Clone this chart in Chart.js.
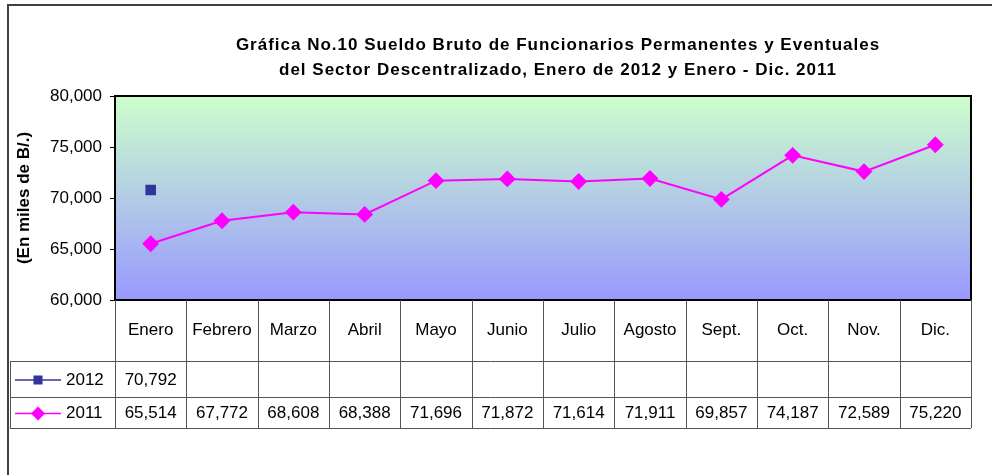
<!DOCTYPE html>
<html>
<head>
<meta charset="utf-8">
<script src="https://cdn.jsdelivr.net/npm/chart.js@4.4.1/dist/chart.umd.min.js"></script>
<style>
  html, body { margin: 0; padding: 0; background: #fff; }
  #wrap { width: 992px; height: 475px; position: relative; }
</style>
</head>
<body>
<div id="wrap"><canvas id="sueldoChart" width="992" height="475"></canvas></div>
<script>
const meses = ["Enero", "Febrero", "Marzo", "Abril", "Mayo", "Junio", "Julio", "Agosto", "Sept.", "Oct.", "Nov.", "Dic."];
const sueldo2012 = [70792, null, null, null, null, null, null, null, null, null, null, null];
const sueldo2011 = [65514, 67772, 68608, 68388, 71696, 71872, 71614, 71911, 69857, 74187, 72589, 75220];
const yTicks = [60000, 65000, 70000, 75000, 80000];

const tituloLineas = [
  "Gráfica No.10 Sueldo Bruto de Funcionarios Permanentes y Eventuales",
  "del Sector Descentralizado, Enero de 2012 y Enero - Dic. 2011"
];
const tituloEje = "(En miles de B/.)";

const FONT = "'Liberation Sans', Arial, sans-serif";
const fmt = v => v.toLocaleString("en-US");

// green-to-blue fill behind the plot, frame around the whole chart, title
const fondo = {
  id: "fondo",
  beforeDraw(chart) {
    const { ctx, chartArea: a } = chart;
    ctx.save();
    const g = ctx.createLinearGradient(0, a.top, 0, a.bottom);
    g.addColorStop(0, "#CCFFCC");
    g.addColorStop(1, "#9999FF");
    ctx.fillStyle = g;
    ctx.fillRect(a.left, a.top, a.right - a.left, a.bottom - a.top);

    // outer frame (only top and left edges show)
    ctx.strokeStyle = "#404040";
    ctx.lineWidth = 2;
    ctx.beginPath();
    ctx.moveTo(8, 475);
    ctx.lineTo(8, 5);
    ctx.lineTo(992, 5);
    ctx.stroke();

    // title, slightly spaced out
    ctx.fillStyle = "#000";
    ctx.font = "bold 17px " + FONT;
    ctx.textAlign = "center";
    ctx.textBaseline = "middle";
    ctx.letterSpacing = "1px";
    ctx.fillText(tituloLineas[0], 558, 45);
    ctx.fillText(tituloLineas[1], 558, 70);
    ctx.letterSpacing = "0px";

    // y axis title
    ctx.translate(24, (a.top + a.bottom) / 2);
    ctx.rotate(-Math.PI / 2);
    ctx.fillText(tituloEje, 0, 0);
    ctx.restore();
  },
  afterDatasetsDraw(chart) {
    const { ctx, chartArea: a } = chart;
    ctx.save();
    ctx.strokeStyle = "#000";
    ctx.lineWidth = 2;
    ctx.strokeRect(a.left, a.top, a.right - a.left, a.bottom - a.top);
    ctx.restore();
  }
};

// data table under the plot: header is the x axis, then one row per series
const tabla = {
  id: "tabla",
  afterDraw(chart) {
    const { ctx, chartArea: a, scales: { x } } = chart;
    const n = meses.length;
    const w = (a.right - a.left) / n;
    const yHead = a.bottom + 61;
    const rows = [
      { ds: chart.data.datasets[0], top: yHead, bot: yHead + 36 },
      { ds: chart.data.datasets[1], top: yHead + 36, bot: yHead + 67 }
    ];
    const legLeft = 10;

    ctx.save();
    ctx.strokeStyle = "#555";
    ctx.lineWidth = 1;
    ctx.beginPath();
    for (let i = 0; i <= n; i++) {
      const xx = Math.round(a.left + i * w) + 0.5;
      ctx.moveTo(xx, a.bottom);
      ctx.lineTo(xx, rows[1].bot);
    }
    [yHead, rows[0].bot, rows[1].bot].forEach(yy => {
      ctx.moveTo(legLeft, yy + 0.5);
      ctx.lineTo(a.right, yy + 0.5);
    });
    ctx.moveTo(legLeft + 0.5, yHead);
    ctx.lineTo(legLeft + 0.5, rows[1].bot);
    ctx.stroke();

    ctx.font = "17px " + FONT;
    ctx.textBaseline = "middle";
    rows.forEach(r => {
      const cy = (r.top + r.bot) / 2 + 1;
      const ds = r.ds;
      // legend key
      ctx.strokeStyle = ds.borderColor;
      ctx.lineWidth = 1.5;
      ctx.beginPath();
      ctx.moveTo(15, cy);
      ctx.lineTo(61, cy);
      ctx.stroke();
      ctx.fillStyle = ds.pointBackgroundColor;
      Chart.helpers.drawPoint(ctx, {
        pointStyle: ds.pointStyle, rotation: 0, borderWidth: 0, radius: ds.pointRadius
      }, 38, cy);
      ctx.fillStyle = "#000";
      ctx.textAlign = "left";
      ctx.fillText(ds.label, 66, cy);
      // values
      ctx.textAlign = "center";
      ds.data.forEach((v, i) => {
        if (v == null) return;
        ctx.fillText(fmt(v), x.getPixelForValue(i), cy);
      });
    });
    ctx.restore();
  }
};

new Chart(document.getElementById("sueldoChart"), {
  type: "line",
  data: {
    labels: meses,
    datasets: [
      {
        label: "2012",
        data: sueldo2012,
        borderColor: "#333399",
        backgroundColor: "#333399",
        pointBackgroundColor: "#333399",
        pointBorderColor: "#333399",
        pointStyle: "rect",
        pointRadius: 6.4,
        borderWidth: 1.5,
        spanGaps: false
      },
      {
        label: "2011",
        data: sueldo2011,
        borderColor: "#FF00FF",
        backgroundColor: "#FF00FF",
        pointBackgroundColor: "#FF00FF",
        pointBorderColor: "#FF00FF",
        pointStyle: "rectRot",
        pointRadius: 7,
        borderWidth: 2
      }
    ]
  },
  options: {
    responsive: false,
    animation: false,
    events: [],
    layout: { padding: { left: 0, top: 96, right: 21, bottom: 0 } },
    plugins: {
      legend: { display: false },
      title: { display: false },
      tooltip: { enabled: false }
    },
    scales: {
      x: {
        offset: true,
        border: { display: false },
        grid: { display: false },
        ticks: { color: "#000", font: { family: FONT, size: 17 }, padding: 12, maxRotation: 0, autoSkip: false },
        afterFit(s) { s.height = 175; }
      },
      y: {
        min: 60000,
        max: 80000,
        border: { display: false },
        grid: { drawOnChartArea: false, tickLength: 5, color: "#000", tickColor: "#000" },
        afterBuildTicks(s) { s.ticks = yTicks.map(v => ({ value: v })); },
        ticks: { color: "#000", font: { family: FONT, size: 17 }, padding: 8, callback: v => fmt(v) },
        afterFit(s) { s.width = 115; }
      }
    }
  },
  plugins: [fondo, tabla]
});
</script>
</body>
</html>
